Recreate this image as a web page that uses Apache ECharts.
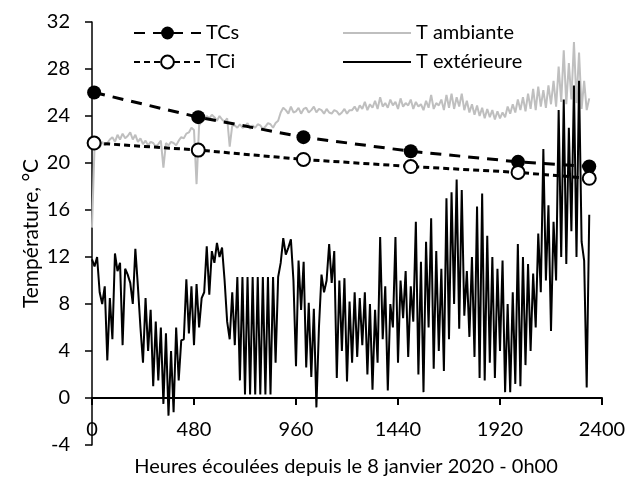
<!DOCTYPE html>
<html>
<head>
<meta charset="utf-8">
<script src="https://cdn.jsdelivr.net/npm/echarts@6/dist/echarts.min.js"></script>
<style>
html, body { margin: 0; padding: 0; background: #fff; }
#chart { width: 627px; height: 477px; }
</style>
</head>
<body>
<div id="chart"></div>
<script>
// relevés manuels
// T extérieure et T ambiante : un point toutes les 12 h depuis 0 h
var stepHours = 12;
var tExt = [
  11.8, 11.2, 12.0, 9.0, 8.0, 9.5, 3.2, 8.5, 5.0, 12.3, 10.8, 11.5, 4.5, 11.0, 10.5, 9.8, 8.0, 12.7, 9.5, 6.0,
  3.0, 8.5, 4.0, 7.5, 1.0, 6.5, 1.5, 6.0, -0.5, 5.5, -1.5, 4.0, -1.2, 6.0, 1.5, 4.9, 5.0, 10.1, 5.5, 9.5,
  4.5, 9.7, 6.0, 8.5, 9.0, 12.9, 8.8, 12.5, 11.5, 13.2, 12.0, 12.8, 10.0, 6.5, 5.0, 9.0, 4.5, 10.3, 1.5, 10.3,
  0.3, 10.3, 0.3, 10.3, 0.3, 10.3, 0.3, 10.3, 0.3, 10.3, 0.3, 10.3, 3.0, 10.3, 11.5, 13.6, 12.2, 12.8, 13.5, 10.0,
  2.7, 11.7, 7.5, 11.6, 2.6, 8.1, 1.8, 7.6, -0.8, 6.0, 10.5, 9.0, 10.0, 13.1, 9.8, 12.5, 1.7, 10.0, 4.0, 10.2,
  1.4, 8.2, 3.0, 9.0, 3.5, 8.5, 4.5, 9.0, 2.0, 8.0, 0.7, 7.5, 3.0, 13.7, 5.0, 9.5, 0.65, 8.0, 6.0, 13.7,
  3.0, 10.0, 6.8, 10.8, 3.5, 9.5, 6.5, 15.0, 2.0, 11.6, 0.5, 13.3, 6.0, 15.3, 2.5, 12.5, 4.0, 11.0, 2.3, 17.0,
  5.0, 17.5, 8.0, 18.6, 5.9, 17.7, 7.0, 10.8, 5.2, 12.0, 3.5, 16.3, 1.7, 17.4, 1.5, 13.8, 3.0, 12.0, 1.7, 11.0,
  4.0, 11.7, 0.5, 8.0, 0.5, 9.0, 1.2, 13.1, 1.0, 12.0, 2.8, 11.4, 4.0, 10.6, 6.0, 14.0, 9.0, 21.2, 10.0, 16.4,
  5.7, 15.0, 10.0, 24.5, 12.0, 25.4, 11.4, 23.0, 14.2, 26.6, 12.0, 27.0, 13.3, 11.7, 0.9, 15.6
];
var tAmb = [
  14.5, 21.4, 21.6, 21.3, 21.8, 21.5, 21.7, 22.0, 22.2, 21.8, 22.4, 22.0, 22.5, 22.1, 22.3, 22.6, 22.0, 22.4, 21.8, 22.1,
  21.6, 21.9, 21.5, 21.8, 21.7, 21.4, 21.6, 21.9, 19.6, 21.7, 21.5, 21.8, 21.7, 21.5, 21.9, 22.2, 22.1, 22.5, 22.6, 23.0,
  22.8, 18.2, 23.2, 23.6, 23.7, 24.0, 23.8, 24.1, 23.9, 23.6, 24.0, 23.7, 23.5, 23.8, 21.4, 23.2, 23.2, 23.0, 23.3, 23.0,
  23.1, 23.4, 22.9, 23.2, 23.0, 23.3, 23.2, 22.9, 23.1, 23.4, 23.3, 23.0, 23.4, 23.6, 24.3, 24.7, 24.5, 24.2, 24.8, 24.3,
  24.4, 24.7, 24.2, 24.6, 24.7, 24.3, 24.5, 24.8, 24.3, 24.6, 24.5, 24.2, 24.6, 24.3, 24.2, 24.5, 24.4, 24.1, 24.3, 24.6,
  24.2, 24.5, 24.5, 24.8, 24.4, 24.9, 24.6, 25.2, 24.5, 25.0, 24.7, 25.3, 24.6, 25.6, 24.8, 25.1, 24.7, 25.4, 24.9, 25.2,
  24.6, 25.5, 24.8, 25.1, 24.9, 25.4, 24.6, 25.2, 24.8, 25.0, 24.5, 25.3, 24.7, 25.8, 24.6, 25.1, 24.9, 25.4, 24.5, 25.8,
  24.7, 25.9, 24.6, 25.6, 24.8, 25.9, 24.5, 25.3, 24.3, 25.0, 24.1, 24.9, 24.0, 24.7, 23.8, 24.6, 23.9, 24.5, 23.7, 24.4,
  23.8, 24.3, 23.9, 24.8, 24.2, 25.0, 24.3, 25.4, 24.5, 25.6, 24.4, 25.9, 24.6, 26.3, 24.5, 26.5, 24.8, 26.2, 24.7, 26.6,
  25.0, 27.0, 24.8, 28.2, 25.2, 29.6, 25.0, 28.5, 25.4, 30.3, 25.1, 29.4, 24.6, 27.0, 24.5, 25.5
];
// thermocouples : surface (TCs) et intérieur (TCi)
var tcHours = [10, 500, 995, 1500, 2005, 2340];
var tcs = [26.0, 23.9, 22.2, 21.0, 20.1, 19.7];
var tci = [21.7, 21.1, 20.3, 19.7, 19.2, 18.7];
// graduations de l'axe des heures
var hourTicks = [0, 480, 960, 1440, 1920, 2400];

function pairsFromSteps(vals) {
  return vals.map(function (v, i) { return [i * stepHours, v]; });
}
function pairs(xs, ys) {
  return xs.map(function (x, i) { return [x, ys[i]]; });
}

var myChart = echarts.init(document.getElementById('chart'));
var font = 'Lato';
var plain = function (v) { return String(v); };
var legendText = { fontSize: 20, color: '#000', fontFamily: font };
myChart.setOption({
  animation: false,
  textStyle: { fontFamily: font, color: '#000' },
  grid: { left: 92, right: 25, top: 22, bottom: 32, outerBoundsMode: 'none' },
  // titre de l'axe des x, sous les graduations
  graphic: [{
    type: 'text',
    x: 346, y: 467,
    style: {
      text: 'Heures écoulées depuis le 8 janvier 2020 - 0h00',
      align: 'center', verticalAlign: 'middle',
      fontSize: 20, fontFamily: font, fill: '#000'
    }
  }],
  legend: [{
    data: ['TCs', 'TCi'],
    orient: 'vertical',
    left: 128, top: 18,
    itemWidth: 67, itemHeight: 16, itemGap: 9,
    textStyle: legendText
  }, {
    // pas de marqueur pour les deux courbes continues
    data: [
      { name: 'T ambiante', itemStyle: { opacity: 0 } },
      { name: 'T extérieure', itemStyle: { opacity: 0 } }
    ],
    orient: 'vertical',
    left: 337, top: 18,
    itemWidth: 68, itemHeight: 16, itemGap: 9,
    textStyle: legendText
  }],
  xAxis: {
    type: 'value',
    min: 0, max: 2400, interval: 480,
    position: 'bottom',
    offset: -47, // l'axe des x passe par 0 °C
    axisLine: { show: true, onZero: false, lineStyle: { color: '#000000', width: 2 } },
    axisTick: { show: true, length: 7, lineStyle: { color: '#000000', width: 2 } },
    axisLabel: { fontSize: 20, color: '#000', margin: 22, fontFamily: font, formatter: plain },
    splitLine: { lineStyle: { opacity: 0 } }
  },
  yAxis: {
    type: 'value',
    min: -4, max: 32, interval: 4,
    name: 'Température, °C',
    nameLocation: 'middle', nameGap: 50, nameMoveOverlap: false,
    nameTextStyle: { fontSize: 21, color: '#000', fontFamily: font },
    axisLine: { show: true, onZero: false, lineStyle: { color: '#000', width: 1.5 } },
    axisTick: { show: true, length: 7, lineStyle: { color: '#000', width: 1.5 } },
    axisLabel: { fontSize: 20, color: '#000', margin: 22, fontFamily: font, formatter: plain },
    splitLine: { show: false }
  },
  series: [{
    // ligne du zéro (axe des x), tracée comme une série
    name: 'zero',
    type: 'line',
    data: hourTicks.map(function (h) { return [h, 0]; }),
    symbol: 'none',
    silent: true,
    lineStyle: { color: '#000', width: 2 },
    z: 0
  }, {
    name: 'T ambiante',
    type: 'line',
    data: pairsFromSteps(tAmb),
    symbol: 'none',
    lineStyle: { color: '#BFBFBF', width: 2 },
    itemStyle: { color: '#BFBFBF' },
    z: 1
  }, {
    name: 'TCs',
    type: 'line',
    data: pairs(tcHours, tcs),
    symbol: 'circle', symbolSize: 14,
    lineStyle: { color: '#000', width: 3, type: [11, 8] },
    itemStyle: { color: '#000' },
    z: 3
  }, {
    name: 'TCi',
    type: 'line',
    data: pairs(tcHours, tci),
    symbol: 'circle', symbolSize: 13,
    lineStyle: { color: '#000', width: 3, type: [6, 4] },
    itemStyle: { color: '#fff', borderColor: '#000', borderWidth: 2 },
    z: 3
  }, {
    name: 'T extérieure',
    type: 'line',
    data: pairsFromSteps(tExt),
    symbol: 'none',
    lineStyle: { color: '#000', width: 2 },
    itemStyle: { color: '#000' },
    z: 4
  }]
});
</script>
</body>
</html>
